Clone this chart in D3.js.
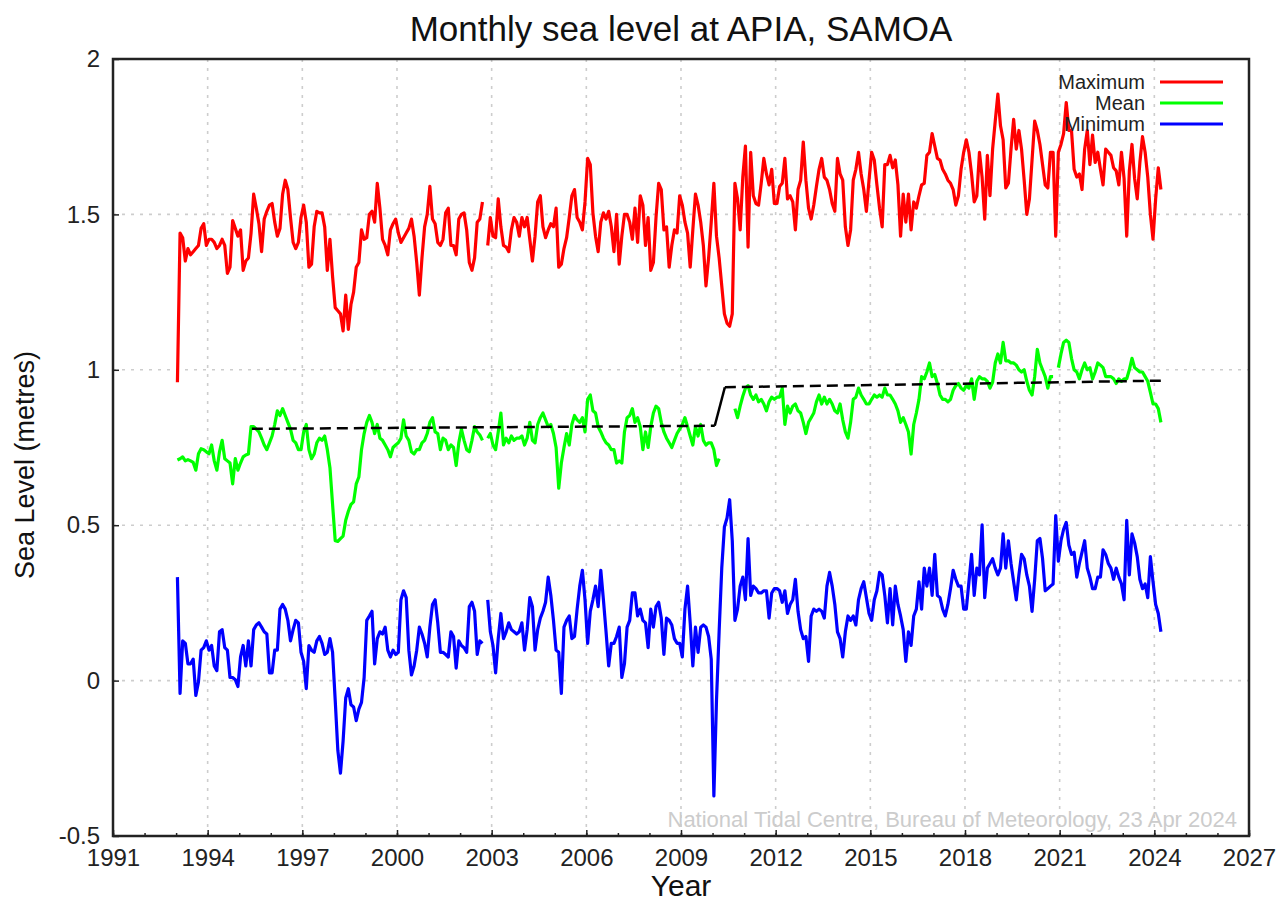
<!DOCTYPE html>
<meta charset="utf-8">
<style type="text/css">
body {
  margin: 0;
  background: #fff;
  font-family: "Liberation Sans", Arial, sans-serif;
}
.axis text {
  font-size: 24px;
  fill: #222;
}
.axis path { display: none; }
.axis line { stroke: #222; stroke-width: 1.5px; }
.grid line {
  stroke: #cdcdcd;
  stroke-width: 1.6px;
  stroke-dasharray: 3,6;
}
.series {
  fill: none;
  stroke-width: 3.2px;
  stroke-linejoin: round;
}
</style>
<body>
</body>

<script src="https://cdn.jsdelivr.net/npm/d3@7"></script>
<script>
// monthly values from Jan 1993, null where a month is missing
var startYear = 1993;

var maxLevel = [
  0.96,1.44,1.425,1.35,1.39,1.37,1.38,1.39,1.40,1.455,1.47,1.40,
  1.42,1.42,1.41,1.39,1.40,1.42,1.40,1.31,1.33,1.48,1.455,1.43,
  1.45,1.32,1.35,1.36,1.44,1.565,1.52,1.47,1.38,1.485,1.51,1.53,
  1.535,1.475,1.43,1.455,1.565,1.61,1.58,1.49,1.41,1.39,1.41,1.49,
  1.53,1.475,1.33,1.34,1.46,1.51,1.505,1.505,1.46,1.32,1.42,1.30,
  1.20,1.19,1.18,1.125,1.24,1.13,1.21,1.25,1.33,1.345,1.45,1.42,
  1.425,1.50,1.51,1.475,1.60,1.52,1.42,1.40,1.37,1.45,1.47,1.485,
  1.44,1.41,1.425,1.44,1.455,1.485,1.43,1.345,1.24,1.36,1.46,1.50,
  1.59,1.485,1.47,1.41,1.40,1.42,1.505,1.52,1.40,1.40,1.37,1.485,
  1.50,1.505,1.45,1.345,1.32,1.36,1.475,1.485,1.54,null,1.40,1.49,
  1.43,1.425,1.55,1.46,1.40,1.395,1.38,1.45,1.49,1.475,1.43,1.49,
  1.46,1.49,1.42,1.35,1.43,1.54,1.56,1.46,1.425,1.45,1.47,1.46,
  1.52,1.33,1.34,1.39,1.425,1.49,1.56,1.58,1.49,1.475,1.45,1.54,
  1.68,1.66,1.505,1.43,1.38,1.475,1.505,1.485,1.51,1.46,1.38,1.50,
  1.34,1.43,1.50,1.50,1.475,1.42,1.52,1.41,1.56,1.53,1.40,1.49,
  1.32,1.345,1.49,1.60,1.58,1.45,1.46,1.33,1.40,1.45,1.44,1.56,
  1.53,1.475,1.44,1.33,1.45,1.565,1.53,1.475,1.40,1.27,1.36,1.475,
  1.60,1.43,1.36,1.27,1.18,1.15,1.14,1.18,1.60,1.55,1.45,1.62,
  1.72,1.395,1.70,1.56,1.535,1.53,1.60,1.68,1.63,1.595,1.645,1.535,
  1.535,1.59,1.60,1.68,1.55,1.56,1.54,1.45,1.58,1.61,1.733,1.61,
  1.52,1.485,1.53,1.59,1.645,1.68,1.62,1.61,1.58,1.535,1.51,1.68,
  1.63,1.61,1.46,1.40,1.45,1.61,1.645,1.70,1.63,1.58,1.51,1.61,
  1.70,1.675,1.595,1.52,1.46,1.66,1.66,1.69,1.65,1.675,1.595,1.43,
  1.565,1.475,1.565,1.45,1.54,1.52,1.56,1.595,1.60,1.69,1.70,1.76,
  1.72,1.68,1.675,1.645,1.63,1.61,1.60,1.58,1.53,1.56,1.645,1.70,
  1.74,1.70,1.63,1.54,1.56,1.70,1.62,1.485,1.69,1.56,1.71,1.80,
  1.887,1.785,1.74,1.585,1.60,1.71,1.806,1.71,1.77,1.71,1.61,1.50,
  1.55,1.675,1.80,1.77,1.725,1.66,1.595,1.585,1.70,1.70,1.43,1.70,
  1.725,1.76,1.86,1.77,1.77,1.645,1.62,1.63,1.58,1.71,1.77,1.66,
  1.755,1.667,1.70,1.645,1.595,1.71,1.70,1.69,1.65,1.64,1.595,1.70,
  1.615,1.43,1.64,1.725,1.615,1.55,1.667,1.75,1.70,1.62,1.50,1.42,
  1.55,1.65,1.58
];

var meanLevel = [
  0.71,0.714,0.72,0.707,0.711,0.707,0.702,0.677,0.73,0.746,0.743,0.736,
  0.73,0.758,0.707,0.677,0.736,0.773,0.714,0.707,0.70,0.633,0.714,0.677,
  0.70,0.72,0.726,0.729,0.817,0.817,0.809,0.80,0.78,0.758,0.743,0.765,
  0.787,0.824,0.868,0.853,0.875,0.853,0.831,0.809,0.773,0.765,0.743,0.743,
  0.80,0.824,0.743,0.714,0.729,0.765,0.78,0.773,0.787,0.743,0.685,0.567,
  0.45,0.448,0.457,0.465,0.516,0.545,0.567,0.575,0.633,0.655,0.743,0.795,
  0.831,0.853,0.831,0.795,0.824,0.78,0.773,0.758,0.743,0.72,0.75,0.758,
  0.765,0.78,0.839,0.787,0.773,0.736,0.729,0.743,0.743,0.765,0.773,0.795,
  0.831,0.846,0.80,0.795,0.743,0.78,0.773,0.743,0.758,0.75,0.692,0.765,
  0.809,0.773,0.743,0.736,0.773,0.817,0.80,0.79,0.773,null,0.78,0.795,
  0.758,0.743,0.80,0.861,0.758,0.78,0.765,0.787,0.773,0.78,0.78,0.787,
  0.758,0.78,0.831,0.773,0.765,0.824,0.846,0.861,0.839,0.817,0.824,0.795,
  0.75,0.619,0.70,0.75,0.795,0.758,0.824,0.853,0.839,0.831,0.846,0.80,
  0.905,0.919,0.868,0.861,0.817,0.80,0.78,0.765,0.758,0.743,0.743,0.70,
  0.707,0.70,0.80,0.846,0.853,0.875,0.831,0.846,0.817,0.743,0.80,0.75,
  0.817,0.861,0.883,0.875,0.831,0.80,0.78,0.765,0.75,0.773,0.795,0.809,
  0.824,0.846,0.817,0.787,0.758,0.817,0.787,0.824,0.773,0.758,0.765,0.765,
  0.743,0.692,0.714,null,null,null,null,null,0.875,0.846,0.883,0.915,
  0.941,0.949,0.919,0.905,0.919,0.897,0.905,0.89,0.868,0.897,0.912,0.905,
  0.912,0.912,0.941,0.824,0.883,0.861,0.883,0.89,0.868,0.861,0.831,0.795,
  0.831,0.846,0.861,0.897,0.919,0.89,0.912,0.89,0.905,0.89,0.868,0.861,
  0.89,0.839,0.80,0.78,0.831,0.905,0.912,0.941,0.919,0.905,0.89,0.89,
  0.905,0.919,0.912,0.919,0.912,0.941,0.919,0.919,0.905,0.89,0.868,0.831,
  0.846,0.824,0.80,0.729,0.824,0.861,0.905,0.978,0.971,0.993,1.022,0.978,
  0.985,0.956,0.919,0.905,0.905,0.897,0.905,0.934,0.949,0.956,0.941,0.934,
  0.949,0.941,0.971,0.905,0.963,0.978,0.971,0.971,0.963,0.941,0.96,1.022,
  1.051,1.022,1.088,1.029,1.029,1.022,1.022,1.015,1.00,0.993,1.00,0.963,
  0.934,0.919,0.978,1.066,1.022,1.00,0.978,0.941,0.978,0.978,null,1.007,
  1.051,1.088,1.095,1.088,1.037,1.00,0.993,0.971,1.00,1.022,1.00,1.007,
  0.971,0.993,1.022,1.015,1.007,0.978,0.978,0.978,0.971,0.956,0.971,0.963,
  0.971,0.971,1.00,1.037,1.007,1.00,0.993,0.993,0.978,0.963,0.927,0.89,
  0.89,0.875,0.831
];

var minLevel = [
  0.333,-0.041,0.128,0.12,0.054,0.054,0.069,-0.048,-0.004,0.098,0.106,0.128,
  0.098,0.113,0.047,0.032,0.157,0.164,0.106,0.098,0.01,0.01,0.003,-0.019,
  0.076,0.113,0.047,0.128,0.047,0.164,0.179,0.186,0.172,0.157,0.15,0.025,
  0.025,0.098,0.098,0.23,0.245,0.23,0.194,0.128,0.164,0.194,0.186,0.091,
  0.062,-0.026,0.113,0.098,0.091,0.128,0.142,0.12,0.084,0.091,0.135,0.091,
  -0.063,-0.224,-0.298,-0.195,-0.056,-0.026,-0.078,-0.085,-0.129,-0.092,-0.07,0.01,
  0.194,0.208,0.223,0.054,0.135,0.157,0.15,0.172,0.098,0.076,0.098,0.084,
  0.091,0.26,0.289,0.267,0.098,0.018,0.047,0.098,0.172,0.15,0.12,0.076,
  0.172,0.245,0.26,0.186,0.091,0.091,0.084,0.076,0.157,0.142,0.04,0.128,
  0.113,0.106,0.091,0.238,0.252,0.223,0.084,0.128,0.12,null,0.26,0.157,
  0.113,0.025,0.135,0.216,0.135,0.157,0.186,0.164,0.157,0.15,0.157,0.186,
  0.098,0.164,0.267,0.238,0.098,0.164,0.201,0.223,0.252,0.333,0.274,0.194,
  0.098,0.091,-0.041,0.172,0.194,0.208,0.135,0.142,0.23,0.304,0.355,0.26,
  0.12,0.223,0.26,0.304,0.238,0.355,0.26,0.157,0.047,0.12,0.12,0.142,
  0.172,0.01,0.054,0.172,0.194,0.282,0.282,0.208,0.23,0.194,0.186,0.106,
  0.23,0.172,0.238,0.252,0.201,0.084,0.201,0.194,0.179,0.135,0.12,0.12,
  0.076,0.23,0.304,0.186,0.047,0.172,0.091,0.172,0.179,0.172,0.142,0.069,
  -0.371,-0.063,0.157,0.362,0.494,0.523,0.582,0.45,0.194,0.23,0.304,0.333,
  0.26,0.457,0.274,0.304,0.296,0.282,0.282,0.289,0.289,0.201,0.282,0.296,
  0.296,0.289,0.252,0.289,0.216,0.245,0.26,0.326,0.223,0.164,0.135,0.142,
  0.062,0.208,0.23,0.223,0.23,0.223,0.201,0.304,0.348,0.304,0.245,0.157,
  0.135,0.076,0.157,0.208,0.194,0.208,0.179,0.26,0.296,0.318,0.267,0.216,
  0.194,0.26,0.289,0.348,0.34,0.274,0.186,0.296,0.179,0.304,0.245,0.208,
  0.164,0.062,0.157,0.113,0.208,0.23,0.318,0.23,0.362,0.304,0.362,0.274,
  0.406,0.274,0.267,0.23,0.208,0.245,0.296,0.355,0.326,0.304,0.304,0.23,
  0.23,0.318,0.406,0.274,0.362,0.34,0.501,0.267,0.362,0.377,0.392,0.362,
  0.34,0.362,0.472,0.362,0.45,0.377,0.318,0.26,0.34,0.406,0.392,0.34,
  0.304,0.223,0.326,0.45,0.457,0.392,0.289,0.296,0.304,0.311,0.531,0.384,
  0.45,0.487,0.509,0.436,0.406,0.413,0.333,0.377,0.413,0.45,0.362,0.333,
  0.296,0.296,0.333,0.333,0.421,0.406,0.377,0.362,0.326,0.362,0.333,0.311,
  0.26,0.516,0.34,0.472,0.443,0.399,0.326,0.296,0.311,0.267,0.399,0.318,
  0.245,0.216,0.157
];

// trend of the mean, before and after the 2009/2010 shift
var trendYears = [1995.4, 2010.07, 2010.39, 2024.25];
var trendValues = [0.81, 0.82, 0.944, 0.965];

var seriesNames = ["Maximum", "Mean", "Minimum"];
var seriesColors = ["#ff0000", "#00ff00", "#0000ff"];

var xTicks = [1991, 1994, 1997, 2000, 2003, 2006, 2009, 2012, 2015, 2018, 2021, 2024, 2027];
var yTicks = [-0.5, 0, 0.5, 1, 1.5, 2];

var margin = { top: 59, right: 39, bottom: 67, left: 113 };
var width = 1288 - margin.left - margin.right;
var height = 903 - margin.top - margin.bottom;

var svg = d3.select("body")
  .append("svg")
    .attr("width", 1288)
    .attr("height", 903);

var g = svg.append("g")
    .attr("transform", "translate(" + margin.left + "," + margin.top + ")");

var xscale = d3.scaleLinear()
  .domain([1991, 2027])
  .range([0, width]);

var yscale = d3.scaleLinear()
  .domain([-0.5, 2])
  .range([height, 0]);

// grid
g.append("g")
  .attr("class", "grid")
  .selectAll("line.v")
  .data(xTicks.slice(1, -1))
  .enter().append("line")
    .attr("x1", function(d) { return xscale(d); })
    .attr("x2", function(d) { return xscale(d); })
    .attr("y1", 0)
    .attr("y2", height);

g.append("g")
  .attr("class", "grid")
  .selectAll("line.h")
  .data(yTicks.slice(1, -1))
  .enter().append("line")
    .attr("x1", 0)
    .attr("x2", width)
    .attr("y1", function(d) { return yscale(d); })
    .attr("y2", function(d) { return yscale(d); });

// minor year ticks
g.append("g")
  .attr("class", "axis")
  .attr("transform", "translate(0," + height + ")")
  .call(d3.axisBottom(xscale).tickValues(d3.range(1991, 2028)).tickSize(-3).tickFormat(""));

g.append("g")
  .attr("class", "axis")
  .attr("transform", "translate(0," + height + ")")
  .call(d3.axisBottom(xscale).tickValues(xTicks).tickSize(-6).tickPadding(13).tickFormat(d3.format("d")));

g.append("g")
  .attr("class", "axis")
  .call(d3.axisLeft(yscale).tickValues(yTicks).tickSize(-6).tickPadding(13).tickFormat(function(d) { return String(d); }));

// data
var line = d3.line()
  .defined(function(d) { return d.v != null; })
  .x(function(d) { return xscale(d.t); })
  .y(function(d) { return yscale(d.v); });

function monthly(values) {
  return values.map(function(v, i) {
    return { t: startYear + (i + 0.5) / 12, v: v };
  });
}

[maxLevel, meanLevel, minLevel].forEach(function(values, k) {
  g.append("path")
    .attr("class", "series")
    .attr("d", line(monthly(values)))
    .style("stroke", seriesColors[k]);
});

var trend = trendYears.map(function(t, i) { return { t: t, v: trendValues[i] }; });
[[0, 1, "11,6"], [1, 2, null], [2, 3, "11,6"]].forEach(function(s) {
  g.append("path")
    .attr("d", line(trend.slice(s[0], s[1] + 1)))
    .style("fill", "none")
    .style("stroke", "#000")
    .style("stroke-width", 2.5)
    .style("stroke-dasharray", s[2]);
});

// frame
g.append("rect")
  .attr("width", width)
  .attr("height", height)
  .style("fill", "none")
  .style("stroke", "#222")
  .style("stroke-width", 2.5);

// legend
var legend = g.selectAll("g.legend")
  .data(seriesNames)
  .enter().append("g")
    .attr("class", "legend")
    .attr("transform", function(d, i) { return "translate(0," + (23 + i * 21) + ")"; });

legend.append("text")
  .attr("x", 1032)
  .attr("dy", "0.35em")
  .attr("text-anchor", "end")
  .style("font-size", "20px")
  .style("fill", "#222")
  .text(function(d) { return d; });

legend.append("line")
  .attr("x1", 1047)
  .attr("x2", 1110)
  .style("stroke-width", 3)
  .style("stroke", function(d, i) { return seriesColors[i]; });

// watermark
g.append("text")
  .attr("x", width - 12)
  .attr("y", height - 9)
  .attr("text-anchor", "end")
  .style("font-size", "22px")
  .style("fill", "#cccccc")
  .text("National Tidal Centre, Bureau of Meteorology, 23 Apr 2024");

// titles
svg.append("text")
  .attr("x", margin.left + width / 2)
  .attr("y", 41)
  .attr("text-anchor", "middle")
  .style("font-size", "35px")
  .style("fill", "#111")
  .text("Monthly sea level at APIA, SAMOA");

svg.append("text")
  .attr("x", margin.left + width / 2)
  .attr("y", 896)
  .attr("text-anchor", "middle")
  .style("font-size", "30px")
  .style("fill", "#111")
  .text("Year");

svg.append("text")
  .attr("transform", "translate(34,465) rotate(-90)")
  .attr("text-anchor", "middle")
  .style("font-size", "27px")
  .style("fill", "#111")
  .text("Sea Level (metres)");
</script>
